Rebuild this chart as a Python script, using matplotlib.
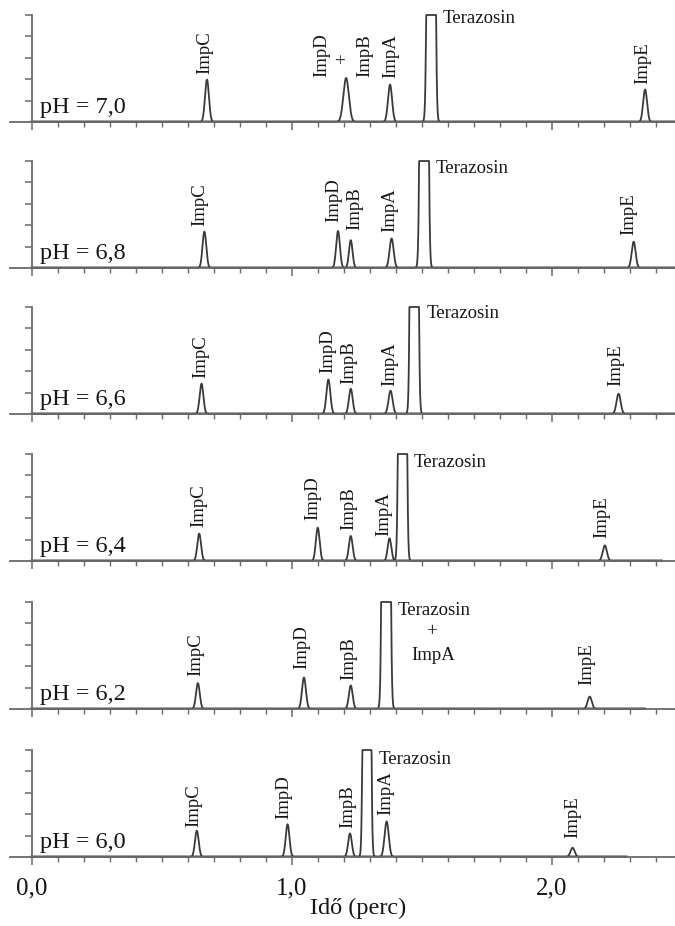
"""Stacked chromatograms of terazosin and impurities at different pH values."""
import matplotlib
matplotlib.use("Agg")
import matplotlib.pyplot as plt
import numpy as np

plt.rcParams["font.family"] = ["Liberation Serif", "DejaVu Serif"]

# panel labels, top to bottom
ph_labels = ["pH = 7,0", "pH = 6,8", "pH = 6,6", "pH = 6,4", "pH = 6,2", "pH = 6,0"]

# peak retention times (min), heights (tick units, axis top = 5) and widths (sigma, min)
peak_times = [
    [0.673, 1.208, 1.377, 1.535, 2.358],
    [0.663, 1.177, 1.226, 1.383, 1.508, 2.314],
    [0.652, 1.140, 1.226, 1.379, 1.470, 2.256],
    [0.643, 1.099, 1.226, 1.375, 1.425, 2.203],
    [0.638, 1.046, 1.226, 1.362, 2.145],
    [0.634, 0.983, 1.223, 1.288, 1.364, 2.079],
]
peak_heights = [
    [1.98, 2.06, 1.75, 140, 1.52],
    [1.70, 1.73, 1.30, 1.38, 140, 1.23],
    [1.42, 1.61, 1.18, 1.09, 140, 0.95],
    [1.28, 1.56, 1.17, 1.06, 140, 0.73],
    [1.21, 1.47, 1.10, 140, 0.58],
    [1.23, 1.53, 1.10, 140, 1.66, 0.43],
]
peak_sigmas = [
    [0.0075, 0.0105, 0.0078, 0.0075, 0.0075],
    [0.0072, 0.0072, 0.0068, 0.0078, 0.0075, 0.0075],
    [0.0072, 0.0075, 0.0072, 0.0078, 0.0072, 0.0080],
    [0.0072, 0.0072, 0.0072, 0.0070, 0.0072, 0.0080],
    [0.0072, 0.0075, 0.0072, 0.0075, 0.0080],
    [0.0072, 0.0072, 0.0072, 0.0070, 0.0080, 0.0080],
]
run_end = [2.473, 2.473, 2.473, 2.42, 2.355, 2.285]

# vertical peak labels: text, x (min), bottom (tick units)
vlabels = [
    [("ImpC", 0.663, 2.24), ("ImpD", 1.114, 2.10), ("ImpB", 1.281, 2.10),
     ("ImpA", 1.380, 2.05), ("ImpE", 2.349, 1.78)],
    [("ImpC", 0.647, 1.98), ("ImpD", 1.160, 2.14), ("ImpB", 1.243, 1.78),
     ("ImpA", 1.375, 1.70), ("ImpE", 2.297, 1.54)],
    [("ImpC", 0.650, 1.69), ("ImpD", 1.136, 1.92), ("ImpB", 1.218, 1.42),
     ("ImpA", 1.375, 1.32), ("ImpE", 2.245, 1.32)],
    [("ImpC", 0.641, 1.61), ("ImpD", 1.082, 1.92), ("ImpB", 1.218, 1.45),
     ("ImpA", 1.355, 1.17), ("ImpE", 2.190, 1.09)],
    [("ImpC", 0.630, 1.53), ("ImpD", 1.036, 1.89), ("ImpB", 1.218, 1.34),
     ("ImpE", 2.132, 1.10)],
    [("ImpC", 0.622, 1.42), ("ImpD", 0.970, 1.78), ("ImpB", 1.215, 1.37),
     ("ImpA", 1.359, 1.94), ("ImpE", 2.079, 0.87)],
]
# horizontal labels: text, x (min), centre y (tick units)
hlabels = [
    [("Terazosin", 1.58, 4.85)],
    [("Terazosin", 1.553, 4.65)],
    [("Terazosin", 1.516, 4.68)],
    [("Terazosin", 1.466, 4.60)],
    [("Terazosin", 1.408, 4.62)],
    [("Terazosin", 1.334, 4.57)],
]
# centred extras ("+" marks and the co-eluting ImpA)
clabels = [
    [("+", 1.195, 3.03, 90)],
    [], [], [],
    [("+", 1.541, 3.60, 0), ("ImpA", 1.544, 2.52, 0)],
    [],
]

baselines_px = [122, 268, 414, 561, 709, 857]
W, H = 675, 926
panel_h = 107
line_col = "#3a3a3a"
axis_col = "#6a6a6a"
text_col = "#151515"

fig = plt.figure(figsize=(W / 100, H / 100), dpi=100)
x0, x1 = -0.0846, 2.473

for i in range(6):
    ax = fig.add_axes([10 / W, 1 - baselines_px[i] / H, 665 / W, panel_h / H])
    t = np.linspace(0, run_end[i], 4000)
    y = np.zeros_like(t)
    for mu, h, s in zip(peak_times[i], peak_heights[i], peak_sigmas[i]):
        y += h * np.exp(-0.5 * ((t - mu) / s) ** 2)
    ax.plot(t, np.minimum(y, 5.0), color=line_col, lw=1.3, clip_on=False,
            solid_joinstyle="round")
    ax.plot(t, np.zeros_like(t), color="#555555", lw=2.2, zorder=1)

    ax.set_xlim(x0, x1)
    ax.set_ylim(0, 5)
    for side in ("top", "right"):
        ax.spines[side].set_visible(False)
    ax.spines["left"].set_position(("data", 0))
    ax.spines["left"].set_color(axis_col)
    ax.spines["left"].set_linewidth(1.3)
    ax.spines["bottom"].set_color(axis_col)
    ax.spines["bottom"].set_linewidth(1.3)
    ax.patch.set_visible(False)

    ax.set_yticks([1, 2, 3, 4, 5])
    ax.set_yticklabels([])
    ax.tick_params(axis="y", direction="out", length=5, width=1.1, color=axis_col)
    ax.set_xticks([0, 1, 2])
    ax.set_xticks(np.arange(0, 2.45, 0.1), minor=True)
    ax.tick_params(axis="x", which="major", direction="out", length=6, width=1.1,
                   color=axis_col)
    ax.tick_params(axis="x", which="minor", direction="out", length=3.5, width=1.0,
                   color=axis_col)
    if i == 5:
        ax.set_xticklabels(["0,0", "1,0", "2,0"], fontsize=18, color=text_col)
        ax.tick_params(axis="x", which="major", pad=9)
        ax.set_xlabel("Idő (perc)", fontsize=17.5, color=text_col)
        ax.xaxis.set_label_coords((358 - 10) / 665, -0.38)
    else:
        ax.set_xticklabels([])

    ax.text(0.03, 0.42, ph_labels[i], fontsize=17.5, va="baseline", ha="left",
            color=text_col)
    for txt, x, yb in vlabels[i]:
        ax.text(x, yb, txt, rotation=90, fontsize=13.5, ha="center", va="bottom",
                color=text_col)
    for txt, x, yc in hlabels[i]:
        ax.text(x, yc, txt, fontsize=13.5, ha="left", va="center", color=text_col)
    for txt, x, yc, rot in clabels[i]:
        ax.text(x, yc, txt, fontsize=13.5, ha="center", va="center", rotation=rot,
                color=text_col)

fig.savefig("out.png", dpi=100)
